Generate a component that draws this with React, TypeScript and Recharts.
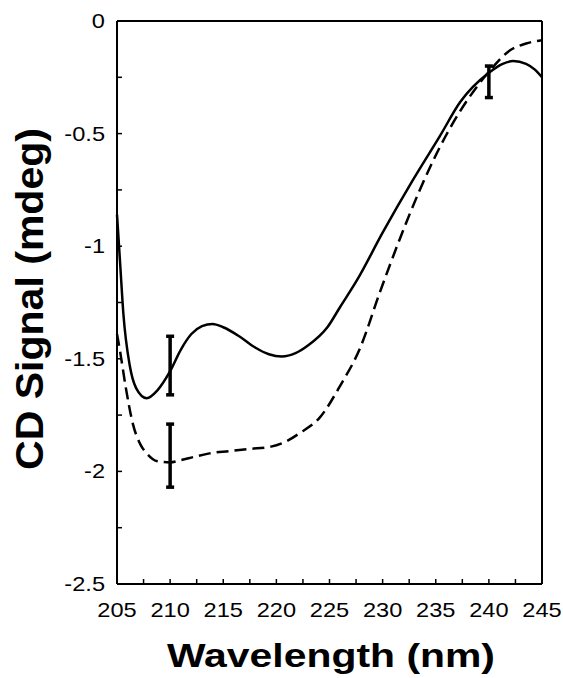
import React from 'react';
import {
  ComposedChart,
  Line,
  Scatter,
  ErrorBar,
  XAxis,
  YAxis,
  ReferenceLine,
} from 'recharts';

// solid trace
const solidNm = [205, 205.3, 205.6, 206.2, 206.8, 207.8, 208.8, 210, 211, 212, 213, 214, 215, 216.5, 218, 219.3, 220.5, 221.8, 223, 224.8, 226, 227.6, 230, 232.8, 235.4, 237.3, 240, 241.3, 242.3, 243.5, 244.3, 245];
const solidCd = [-0.86, -1.08, -1.3, -1.53, -1.63, -1.675, -1.64, -1.555, -1.46, -1.39, -1.355, -1.345, -1.36, -1.4, -1.45, -1.48, -1.49, -1.475, -1.44, -1.36, -1.27, -1.15, -0.94, -0.71, -0.51, -0.36, -0.23, -0.19, -0.178, -0.19, -0.215, -0.25];

// dashed trace
const dashedNm = [205, 205.3, 205.8, 206.5, 207.2, 207.8, 208.8, 210, 211, 212.3, 213.7, 215.5, 217.5, 219.5, 221, 222.2, 224.1, 226, 227.9, 229.7, 231.6, 233.5, 236, 238.9, 240.1, 242, 243.5, 245];
const dashedCd = [-1.39, -1.47, -1.62, -1.79, -1.88, -1.92, -1.955, -1.96, -1.95, -1.935, -1.92, -1.91, -1.9, -1.89, -1.865, -1.83, -1.76, -1.62, -1.45, -1.21, -0.97, -0.75, -0.505, -0.29, -0.22, -0.13, -0.1, -0.085];

// error bars
const errNm = [210, 210, 240];
const errCd = [-1.53, -1.93, -0.27];
const errSize = [0.13, 0.14, 0.07];

const xTicks = [205, 207.5, 210, 212.5, 215, 217.5, 220, 222.5, 225, 227.5, 230, 232.5, 235, 237.5, 240, 242.5, 245];
const yTicks = [0, -0.25, -0.5, -0.75, -1, -1.25, -1.5, -1.75, -2, -2.25, -2.5];

const solidData = solidNm.map((nm, i) => ({ nm, cd: solidCd[i] }));
const dashedData = dashedNm.map((nm, i) => ({ nm, cd: dashedCd[i] }));
const errData = errNm.map((nm, i) => ({ nm, cd: errCd[i], err: errSize[i] }));

const FONT = '"Liberation Sans", Arial, sans-serif';

// tick label only on the major ticks, tick marks come from the axis (inward)
const XTick = (props: any) => {
  const { x, y, payload } = props;
  const v = payload.value;
  if (v % 5 !== 0) return <g />;
  return (
    <text
      transform={`translate(${x},${y + 33}) scale(1.18,1)`}
      textAnchor="middle"
      fontSize={20}
      fontFamily={FONT}
      fill="#000"
    >
      {String(v)}
    </text>
  );
};

const YTick = (props: any) => {
  const { x, y, payload } = props;
  const v = payload.value;
  if (Math.abs(v * 2 - Math.round(v * 2)) > 1e-6) return <g />;
  return (
    <text
      transform={`translate(${x - 12},${y + 7}) scale(1.18,1)`}
      textAnchor="end"
      fontSize={20}
      fontFamily={FONT}
      fill="#000"
    >
      {String(v)}
    </text>
  );
};

const App: React.FC = () => {
  return (
    <div style={{ position: 'absolute', left: 0, top: 0, width: 563, height: 678, background: '#fff' }}>
      <ComposedChart width={563} height={678} margin={{ top: 21, right: 21, bottom: 0, left: 0 }}>
        <XAxis
          dataKey="nm"
          type="number"
          domain={[205, 245]}
          ticks={xTicks}
          interval={0}
          tickSize={-5}
          tickMargin={5}
          tick={<XTick />}
          tickLine={{ stroke: '#000', strokeWidth: 1.5 }}
          axisLine={{ stroke: '#000', strokeWidth: 2 }}
          height={94}
          allowDuplicatedCategory={false}
        />
        <YAxis
          type="number"
          domain={[-2.5, 0]}
          ticks={yTicks}
          interval={0}
          tickSize={-5}
          tickMargin={5}
          tick={<YTick />}
          tickLine={{ stroke: '#000', strokeWidth: 1.5 }}
          axisLine={{ stroke: '#000', strokeWidth: 2 }}
          width={117}
        />
        <ReferenceLine y={0} stroke="#000" strokeWidth={2} />
        <ReferenceLine x={245} stroke="#000" strokeWidth={2} />
        <Line
          data={solidData}
          dataKey="cd"
          type="monotone"
          stroke="#000"
          strokeWidth={2.5}
          dot={false}
          isAnimationActive={false}
        />
        <Line
          data={dashedData}
          dataKey="cd"
          type="monotone"
          stroke="#000"
          strokeWidth={2.5}
          strokeDasharray="12 6"
          dot={false}
          isAnimationActive={false}
        />
        <Scatter data={errData} dataKey="cd" shape={() => <g />} isAnimationActive={false}>
          <ErrorBar dataKey="err" direction="y" width={4} stroke="#000" strokeWidth={3.5} />
        </Scatter>
        <text
          x={331}
          y={667}
          textAnchor="middle"
          fontSize={33}
          fontWeight="bold"
          fontFamily={FONT}
          textLength={328}
          lengthAdjust="spacingAndGlyphs"
        >
          Wavelength (nm)
        </text>
        <text
          x={43}
          y={299}
          textAnchor="middle"
          fontSize={39}
          fontWeight="bold"
          fontFamily={FONT}
          transform="rotate(-90, 43, 299)"
          textLength={342}
          lengthAdjust="spacingAndGlyphs"
        >
          CD Signal (mdeg)
        </text>
      </ComposedChart>
    </div>
  );
};

export default App;
